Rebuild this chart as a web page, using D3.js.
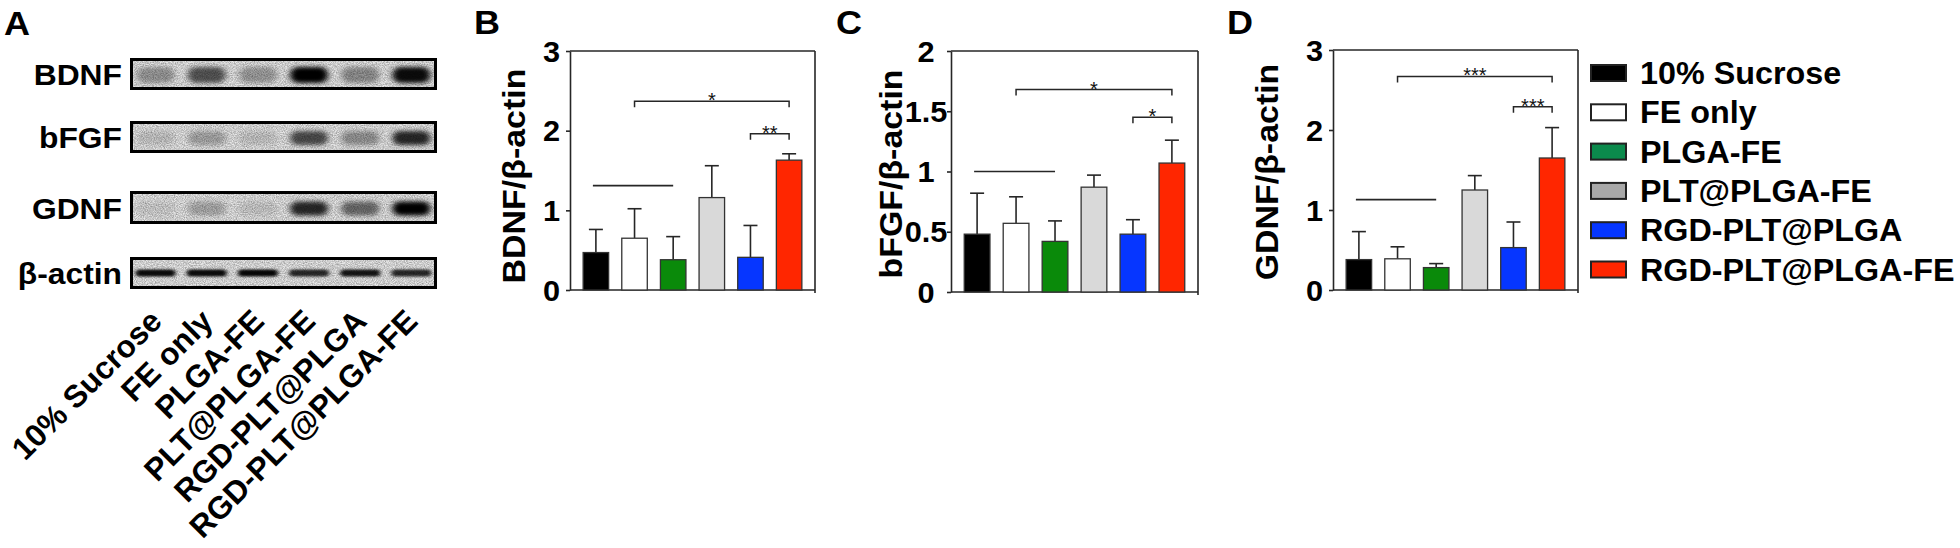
<!DOCTYPE html>
<html><head><meta charset="utf-8">
<script src="https://cdn.jsdelivr.net/npm/d3@7"></script>
<style>
html,body{margin:0;padding:0;background:#fff;}
svg{display:block;font-family:Arial,"Liberation Sans",Helvetica,sans-serif;}
</style></head><body>
<svg id="fig" width="1960" height="548"></svg>
<script>
// ---------------- data ----------------
const groups = ["10% Sucrose","FE only","PLGA-FE","PLT@PLGA-FE","RGD-PLT@PLGA","RGD-PLT@PLGA-FE"];
const proteins = ["BDNF","bFGF","GDNF","β-actin"];

const bdnfMean = [0.47,0.65,0.38,1.16,0.41,1.63];
const bdnfErr  = [0.29,0.37,0.29,0.40,0.40,0.08];
const bfgfMean = [0.48,0.57,0.42,0.87,0.48,1.07];
const bfgfErr  = [0.34,0.22,0.17,0.10,0.12,0.19];
const gdnfMean = [0.38,0.39,0.28,1.25,0.53,1.65];
const gdnfErr  = [0.35,0.15,0.05,0.18,0.32,0.38];

const ticksB = [0,1,2,3];
const ticksC = [0,0.5,1,1.5,2];
const ticksD = [0,1,2,3];
const tickLabelsB = ["0","1","2","3"];
const tickLabelsC = ["0","0.5","1","1.5","2"];
const tickLabelsD = ["0","1","2","3"];

// significance brackets: [fromGroup, toGroup, yValue, label]
const sigB = [[1,5,2.37,"*"],[4,5,1.96,"**"]];
const sigC = [[1,5,1.68,"*"],[4,5,1.45,"*"]];
const sigD = [[1,5,2.67,"***"],[4,5,2.29,"***"]];
// plain horizontal lines: [fromGroup, toGroup, yValue]
const lineB = [[0,2,1.31]];
const lineC = [[0,2,1.0]];
const lineD = [[0,2,1.13]];

// western blot band densities (relative)
const blotBDNF  = [0.32,0.62,0.30,1.00,0.36,0.95];
const blotBFGF  = [0.12,0.26,0.12,0.66,0.34,0.82];
const blotGDNF  = [0.08,0.24,0.10,0.82,0.52,1.00];
const blotActin = [0.95,0.95,0.97,0.82,0.90,0.82];

// ---------------- styles ----------------
const barColors    = ["#000000","#ffffff","#0a8a0a","#d9d9d9","#0636ff","#ff2600"];
const legendColors = ["#000000","#ffffff","#0b8a4c","#a8a8a8","#0636ff","#ff2600"];
const ink = "#262626";
const SX = 1.06; // horizontal text stretch seen in the figure

const svg = d3.select("#fig");
const defs = svg.append("defs");
const grain = defs.append("filter").attr("id","grain").attr("x",0).attr("y",0).attr("width",1).attr("height",1);
grain.append("feTurbulence").attr("type","fractalNoise").attr("baseFrequency","0.9").attr("numOctaves",2).attr("seed",7);
grain.append("feColorMatrix").attr("type","matrix")
  .attr("values","0 0 0 0 0  0 0 0 0 0  0 0 0 0 0  0.6 0 0 0 -0.17");
const blur = defs.append("filter").attr("id","bandblur").attr("x","-50%").attr("y","-100%").attr("width","200%").attr("height","300%");
blur.append("feGaussianBlur").attr("stdDeviation","3.4 2.3");
const blurA = defs.append("filter").attr("id","actinblur").attr("x","-50%").attr("y","-150%").attr("width","200%").attr("height","400%");
blurA.append("feGaussianBlur").attr("stdDeviation","2.2 1.3");

function stretchedText(parent, x, y, size, txt, anchor, rot, sx){
  const s = sx===undefined ? SX : sx;
  return parent.append("text")
    .attr("transform",`translate(${x},${y})${rot?` rotate(${rot})`:""} scale(${s},1)`)
    .attr("font-size",size).attr("font-weight","bold").attr("text-anchor",anchor||"start").text(txt);
}

// ---------------- panel A: blot ----------------
stretchedText(svg,4,35,34,"A");

const lane = d3.scalePoint().domain(groups).range([130,437]).padding(0.5);
const blotRows = [
  {name:proteins[0], dens:blotBDNF, y0:58, y1:90, bh:16, bw:38, f:"bandblur"},
  {name:proteins[1], dens:blotBFGF, y0:121, y1:153, bh:14, bw:38, f:"bandblur"},
  {name:proteins[2], dens:blotGDNF, y0:191, y1:224, bh:14, bw:38, f:"bandblur"},
  {name:proteins[3], dens:blotActin, y0:257, y1:289, bh:7, bw:40, f:"actinblur"}
];
blotRows.forEach((r,ri)=>{
  const g = svg.append("g");
  const cid = "clip"+ri;
  defs.append("clipPath").attr("id",cid).append("rect").attr("x",132).attr("y",r.y0+2).attr("width",303).attr("height",r.y1-r.y0-4);
  const inner = g.append("g").attr("clip-path",`url(#${cid})`);
  inner.append("rect").attr("x",132).attr("y",r.y0+2).attr("width",303).attr("height",r.y1-r.y0-4).attr("fill","#e9e9e9");
  inner.append("rect").attr("x",132).attr("y",r.y0+2).attr("width",303).attr("height",r.y1-r.y0-4).attr("filter","url(#grain)");
  const cy = (r.y0+r.y1)/2 + (ri===3?0:1);
  inner.selectAll("rect.band").data(groups).join("rect").attr("class","band")
    .attr("x",d=>lane(d)-r.bw/2).attr("width",r.bw)
    .attr("y",cy-r.bh/2).attr("height",r.bh).attr("rx",r.bh/2)
    .attr("fill","#000").attr("fill-opacity",(d,i)=>Math.min(1,r.dens[i]))
    .attr("filter",`url(#${r.f})`);
  g.append("rect").attr("x",131.5).attr("y",r.y0+1.5).attr("width",304).attr("height",r.y1-r.y0-3)
    .attr("fill","none").attr("stroke","#000").attr("stroke-width",3);
  stretchedText(svg,122,(r.y0+r.y1)/2+11,30,r.name,"end");
});
const rotG = svg.append("g");
groups.forEach(d=>stretchedText(rotG, lane(d)+8, 323, 31.5, d, "end", -45, 1));

// ---------------- bar panels ----------------
function barPanel(o){
  const x = d3.scaleBand().domain(groups).range([o.x0,o.x1]).paddingInner(0.34).paddingOuter(0.34);
  const y = d3.scaleLinear().domain([0,o.max]).range([o.yb,o.yt]);
  const g = svg.append("g");
  stretchedText(svg,o.labelX,34,34,o.letter);
  // frame
  g.append("line").attr("x1",o.x0).attr("x2",o.x1).attr("y1",o.yt).attr("y2",o.yt).attr("stroke",ink).attr("stroke-width",1.6);
  g.append("line").attr("x1",o.x1).attr("x2",o.x1).attr("y1",o.yt).attr("y2",o.yb+3).attr("stroke",ink).attr("stroke-width",1.6);
  g.append("line").attr("x1",o.x0).attr("x2",o.x1).attr("y1",o.yb).attr("y2",o.yb).attr("stroke",ink).attr("stroke-width",1.6);
  // axis
  const ax = d3.axisLeft(y).tickValues(o.ticks).tickFormat("").tickSize(4).tickSizeOuter(0);
  const ag = g.append("g").attr("transform",`translate(${o.x0},0)`).call(ax);
  ag.select(".domain").attr("stroke",ink).attr("stroke-width",1.6);
  ag.selectAll(".tick line").attr("stroke",ink).attr("stroke-width",1.6);
  o.ticks.forEach((t,i)=>stretchedText(g, o.x0-o.tickOff, y(t)+10.5, 29, o.tickLabels[i], o.tickAnchor));
  // title
  stretchedText(g, o.x0-o.titleOff, o.titleY, 32, o.title, "middle", -90);
  // error bars
  const cap = 7;
  o.mean.forEach((m,i)=>{
    const cx = x(groups[i]) + x.bandwidth()/2;
    g.append("line").attr("x1",cx).attr("x2",cx).attr("y1",y(m)).attr("y2",y(m+o.err[i])).attr("stroke",ink).attr("stroke-width",1.6);
    g.append("line").attr("x1",cx-cap).attr("x2",cx+cap).attr("y1",y(m+o.err[i])).attr("y2",y(m+o.err[i])).attr("stroke",ink).attr("stroke-width",1.6);
  });
  // bars
  g.selectAll("rect.bar").data(groups).join("rect").attr("class","bar")
    .attr("x",d=>x(d)).attr("width",x.bandwidth())
    .attr("y",(d,i)=>y(o.mean[i])).attr("height",(d,i)=>o.yb-y(o.mean[i]))
    .attr("fill",(d,i)=>barColors[i]).attr("stroke","#333").attr("stroke-width",1.3);
  // plain lines
  o.lines.forEach(l=>{
    g.append("line").attr("x1",x(groups[l[0]])+x.bandwidth()/2-3).attr("x2",x(groups[l[1]])+x.bandwidth()/2)
      .attr("y1",y(l[2])).attr("y2",y(l[2])).attr("stroke",ink).attr("stroke-width",1.6);
  });
  // brackets
  o.sig.forEach(s=>{
    const xa = x(groups[s[0]])+x.bandwidth()/2, xb = x(groups[s[1]])+x.bandwidth()/2, yy = y(s[2]);
    g.append("path").attr("d",`M${xa},${yy+6}V${yy}H${xb}V${yy+6}`).attr("fill","none").attr("stroke",ink).attr("stroke-width",1.5);
    g.append("text").attr("x",(xa+xb)/2).attr("y",yy+6).attr("text-anchor","middle").attr("font-size",20).attr("fill","#111").text(s[3]);
  });
}
barPanel({letter:"B",labelX:474,x0:570,x1:815,yt:51,yb:290,max:3,ticks:ticksB,tickLabels:tickLabelsB,tickOff:10,tickAnchor:"end",
  title:"BDNF/β-actin",titleOff:45,titleY:176,mean:bdnfMean,err:bdnfErr,sig:sigB,lines:lineB});
barPanel({letter:"C",labelX:836,x0:951,x1:1198,yt:51,yb:292,max:2,ticks:ticksC,tickLabels:tickLabelsC,tickOff:25,tickAnchor:"middle",
  title:"bFGF/β-actin",titleOff:49,titleY:174,mean:bfgfMean,err:bfgfErr,sig:sigC,lines:lineC});
barPanel({letter:"D",labelX:1227,x0:1333,x1:1578,yt:50,yb:290,max:3,ticks:ticksD,tickLabels:tickLabelsD,tickOff:10,tickAnchor:"end",
  title:"GDNF/β-actin",titleOff:55,titleY:172,mean:gdnfMean,err:gdnfErr,sig:sigD,lines:lineD});

// ---------------- legend ----------------
const ly = d3.scalePoint().domain(groups).range([73,269.5]);
const lg = svg.append("g");
lg.selectAll("rect").data(groups).join("rect")
  .attr("x",1591).attr("y",d=>ly(d)-8).attr("width",35).attr("height",16)
  .attr("fill",(d,i)=>legendColors[i]).attr("stroke","#222").attr("stroke-width",2);
groups.forEach(d=>stretchedText(lg, 1640, ly(d)+11, 30.5, d, "start"));
</script>
</body></html>
